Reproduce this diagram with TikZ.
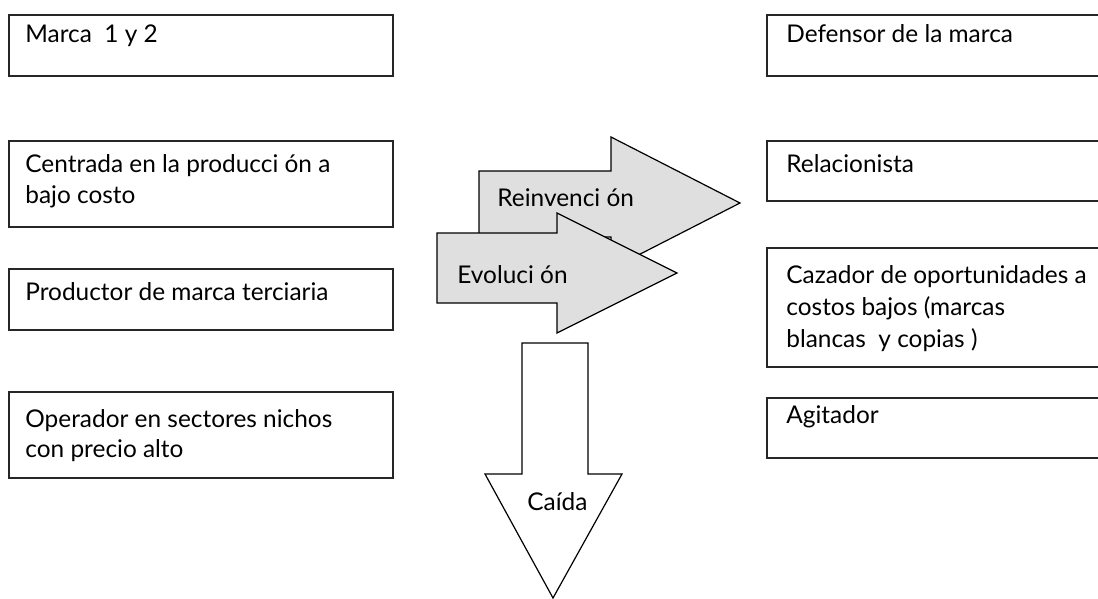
\documentclass[tikz,border=0pt]{standalone}
\usepackage{fontspec}
\setmainfont{Lato}
\usepackage{tikz}

\begin{document}
\begin{tikzpicture}[x=0.5pt, y=-0.5pt,
    caja/.style={draw=black!85, line width=0.6pt},
    flecha/.style={draw=black, line width=0.6pt, fill=gray!25, line join=miter},
    texto/.style={anchor=base west, inner sep=0pt, font=\fontsize{12.2}{15}\selectfont}]
    \useasboundingbox (0,0) rectangle (1098,599);
    \clip (0,0) rectangle (1098,599);

    % Left column
    \draw[caja] (9,15) rectangle (393,76);
    \node[texto] (marca) at (25,43) {Marca\ \ 1 y 2};
    \draw[caja] (9,141) rectangle (393,227);
    \node[texto] (centrada) at (25,173) {Centrada en la producci ón a};
    \node[texto] (centrada2) at (25,203) {bajo costo};
    \draw[caja] (9,269) rectangle (393,330);
    \node[texto] (productor) at (25,300) {Productor de marca terciaria};
    \draw[caja] (9,392) rectangle (393,478);
    \node[texto] (operador) at (25,427) {Operador en sectores nichos};
    \node[texto] (operador2) at (25,457) {con precio alto};

    % Right column (runs past the edge)
    \draw[caja] (767,15) rectangle (1120,76);
    \node[texto] (defensor) at (786,43) {Defensor de la marca};
    \draw[caja] (767,141) rectangle (1120,201);
    \node[texto] (relacionista) at (786,172) {Relacionista};
    \draw[caja] (767,248) rectangle (1120,367);
    \node[texto] (cazador) at (786,283) {Cazador de oportunidades a};
    \node[texto] (cazador2) at (786,315) {costos bajos (marcas};
    \node[texto] (cazador3) at (786,347) {blancas\ \ y copias )};
    \draw[caja] (767,398) rectangle (1120,458);
    \node[texto] (agitador) at (786,423) {Agitador};

    % Block arrows
    \draw[flecha, fill=white] (522,343) -- (588,343) -- (588,474) -- (622,474)
        -- (553,598) -- (485,474) -- (522,474) -- cycle;
    \node[texto] (caida) at (527,510) {Caída};

    \draw[flecha] (479,171) -- (611,171) -- (611,137) -- (740,203)
        -- (611,269) -- (611,237) -- (479,237) -- cycle;
    \node[texto] (reinvencion) at (497,206) {Reinvenci ón};

    \draw[flecha] (437,233) -- (557,233) -- (557,213) -- (677,273)
        -- (557,333) -- (557,303) -- (437,303) -- cycle;
    \node[texto] (evolucion) at (457,283) {Evoluci ón};
\end{tikzpicture}
\end{document}
